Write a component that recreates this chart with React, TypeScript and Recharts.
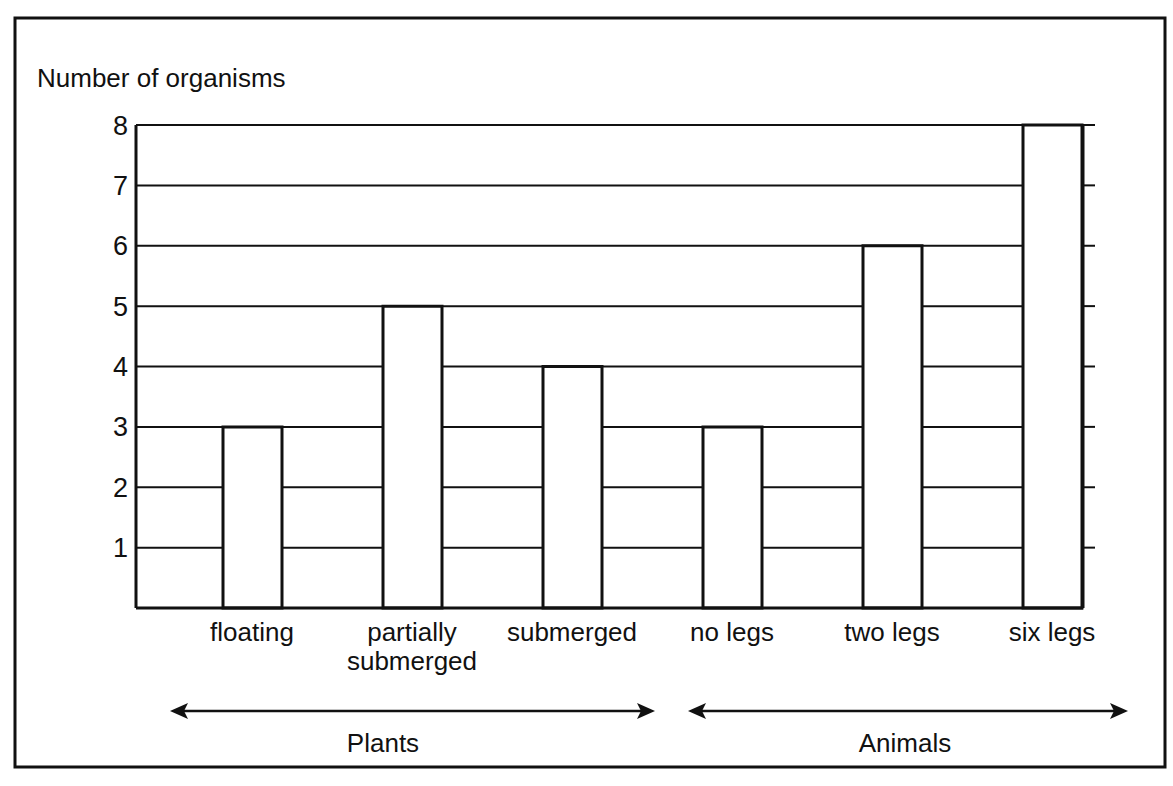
import React from 'react';
import { ComposedChart, Bar, Line, XAxis, YAxis, CartesianGrid } from 'recharts';

const categories = ['floating', 'partially\nsubmerged', 'submerged', 'no legs', 'two legs', 'six legs'];
const organismCounts = [3, 5, 4, 3, 6, 8];
const yTicks = [1, 2, 3, 4, 5, 6, 7, 8];
const rightTicks = [1, 2, 3, 4, 5, 6, 7, 8];
const groups = [
  { label: 'Plants', from: 170, to: 655, labelX: 383 },
  { label: 'Animals', from: 688, to: 1128, labelX: 905 },
];

const data = categories.map((name, i) => ({ name, count: organismCounts[i] }));

const FONT = '"Liberation Sans", Arial, sans-serif';
const INK = '#111';

const CategoryTick = (props: any) => {
  const { x, y, payload } = props;
  const lines = String(payload.value).split('\n');
  return (
    <text x={x} y={y} textAnchor="middle" fontFamily={FONT} fontSize={26} fill={INK}>
      {lines.map((line, i) => (
        <tspan key={i} x={x} dy={i === 0 ? 25 : 29}>
          {line}
        </tspan>
      ))}
    </text>
  );
};

// small outward marks on the right-hand axis
const RightMark = (props: any) => {
  const { x, y } = props;
  return <line x1={x} y1={y} x2={x + 12} y2={y} stroke={INK} strokeWidth={2} />;
};

const Arrow = ({ from, to, y }: { from: number; to: number; y: number }) => (
  <g>
    <line x1={from + 12} y1={y} x2={to - 12} y2={y} stroke={INK} strokeWidth={2.5} />
    <polygon points={`${from},${y} ${from + 18},${y - 8} ${from + 14},${y} ${from + 18},${y + 8}`} fill={INK} />
    <polygon points={`${to},${y} ${to - 18},${y - 8} ${to - 14},${y} ${to - 18},${y + 8}`} fill={INK} />
  </g>
);

export default function App() {
  return (
    <div style={{ position: 'absolute', left: 0, top: 0, width: 1173, height: 786, background: '#fff' }}>
      <ComposedChart
        width={1173}
        height={786}
        data={data}
        margin={{ top: 125, right: 70, bottom: 118, left: 86 }}
        barCategoryGap={0}
      >
        <CartesianGrid horizontal vertical={false} stroke={INK} strokeWidth={2} />
        <XAxis
          dataKey="name"
          height={60}
          padding={{ left: 36, right: -49 }}
          axisLine={{ stroke: INK, strokeWidth: 3 }}
          tickLine={false}
          interval={0}
          tick={<CategoryTick />}
        />
        <YAxis
          width={50}
          domain={[0, 8]}
          ticks={yTicks}
          interval={0}
          axisLine={{ stroke: INK, strokeWidth: 3 }}
          tickLine={false}
          tick={{ fontFamily: FONT, fontSize: 27, fill: INK }}
        />
        <YAxis
          yAxisId="right"
          orientation="right"
          dataKey="count"
          width={20}
          domain={[0, 8]}
          ticks={rightTicks}
          interval={0}
          tickSize={0}
          tickMargin={0}
          axisLine={{ stroke: INK, strokeWidth: 3 }}
          tickLine={false}
          tick={<RightMark />}
        />
        <Bar
          dataKey="count"
          fill="#fff"
          stroke={INK}
          strokeWidth={3}
          barSize={59}
          isAnimationActive={false}
        />
        <Line
          yAxisId="right"
          dataKey="count"
          stroke="none"
          dot={false}
          activeDot={false}
          isAnimationActive={false}
        />
      </ComposedChart>
      <svg
        width={1173}
        height={786}
        style={{ position: 'absolute', left: 0, top: 0, pointerEvents: 'none' }}
      >
        <rect x={15} y={18} width={1150} height={749} fill="none" stroke={INK} strokeWidth={3} />
        <text x={37} y={87} fontFamily={FONT} fontSize={26} fill={INK}>
          Number of organisms
        </text>
        {groups.map((g) => (
          <g key={g.label}>
            <Arrow from={g.from} to={g.to} y={711} />
            <text x={g.labelX} y={752} textAnchor="middle" fontFamily={FONT} fontSize={26} fill={INK}>
              {g.label}
            </text>
          </g>
        ))}
      </svg>
    </div>
  );
}
